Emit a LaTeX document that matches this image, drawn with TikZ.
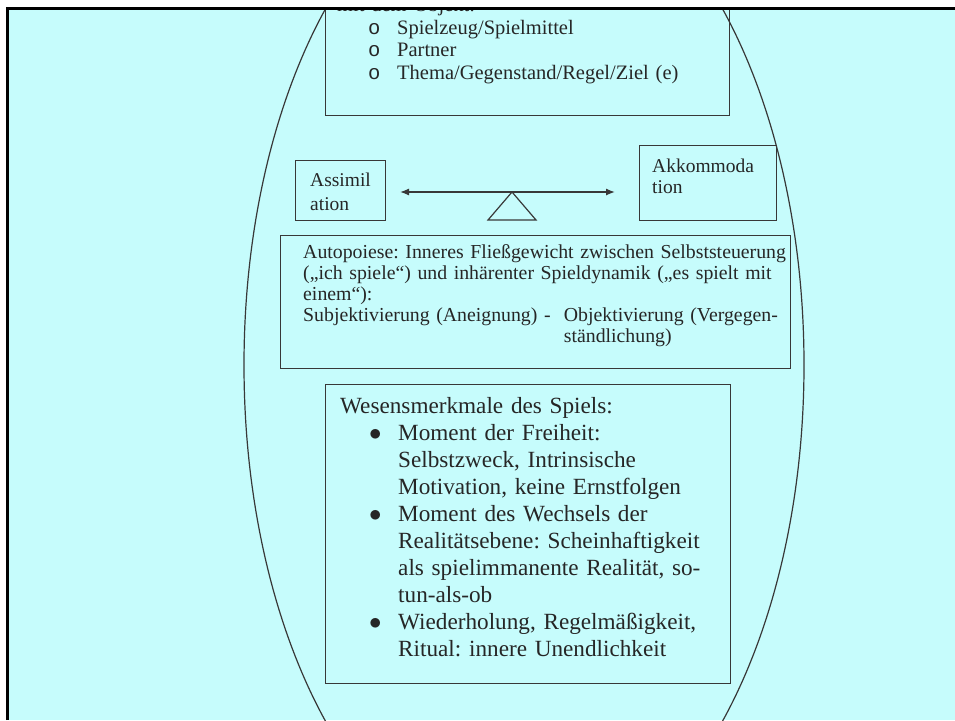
\documentclass[tikz,border=0pt]{standalone}
\usepackage{fontspec}
\setmainfont{Liberation Serif}
\setmonofont{Liberation Mono}
\usetikzlibrary{arrows.meta}
\definecolor{paper}{HTML}{C6FCFC}
\definecolor{ink}{HTML}{383838}
\frenchspacing

\begin{document}
\begin{tikzpicture}[x=1pt,y=-1pt,
    box/.style={draw=ink,line width=1.2pt,inner sep=0pt,anchor=north west},
    txt/.style={anchor=base west,inner sep=0pt,align=left,text width=520pt,text=black!85}]
                \useasboundingbox (0,0) rectangle (955,720);
                \fill[white] (0,0) rectangle (955,720);
                \fill[paper] (7.5,8.5) rectangle (955,720);

                \begin{scope}
                \clip (9,10) rectangle (955,720);
                \draw[ink,line width=1.2pt] (524,365) ellipse [x radius=280,y radius=505];

                \node[box,minimum width=404,minimum height=150] (objbox) at (325,-35) {};
                \node[txt,font=\fontsize{20.5}{22.5}\selectfont] (objtxt) at (337,11.5)
                  {mit dem Objekt:\\
                   \hspace*{31pt}\makebox[29pt][l]{\ttfamily o}Spielzeug/Spielmittel\\
                   \hspace*{31pt}\makebox[29pt][l]{\ttfamily o}Partner\\
                   \hspace*{31pt}\makebox[29pt][l]{\ttfamily o}Thema/Gegenstand/Regel/Ziel (e)};

                \node[box,minimum width=90,minimum height=60] (assimbox) at (295,160) {};
                \node[txt,font=\fontsize{19.5}{24}\selectfont] (assimtxt) at (310,186) {Assimil\\ation};

                \node[box,minimum width=137,minimum height=75] (akkbox) at (639,145) {};
                \node[txt,font=\fontsize{19.5}{21}\selectfont] (akktxt) at (652,172) {Akkommoda\\tion};

                \coordinate (arrL) at (400,192);
                \coordinate (arrR) at (615,192);
                \draw[ink,line width=1.3pt,{Latex[length=9pt,width=7pt]}-{Latex[length=9pt,width=7pt]}] (arrL) -- (arrR);

                \coordinate (pivot) at (512,192);
                \draw[ink,line width=1.2pt] (pivot) -- (488,220) -- (536,220) -- cycle;

                \node[box,minimum width=510,minimum height=133] (autobox) at (280,235) {};
                \node[txt,font=\fontsize{19.8}{21.2}\selectfont] (autotxt) at (303,258)
                  {Autopoiese: Inneres Fließgewicht zwischen Selbststeuerung\\
                   („ich spiele“) und inhärenter Spieldynamik („es spielt mit\\
                   einem“):\\
                   Subjektivierung (Aneignung) -\ \ Objektivierung (Vergegen-\\
                   \phantom{Subjektivierung (Aneignung) -\ \ }ständlichung)};

                \node[box,minimum width=405,minimum height=299] (wesbox) at (325,384) {};
                \node[txt,font=\fontsize{23.2}{27.1}\selectfont] (westxt) at (340,413)
                  {Wesensmerkmale des Spiels:\\
                   \hspace*{29pt}\makebox[29pt][l]{$\bullet$}Moment der Freiheit:\\
                   \hspace*{58pt}Selbstzweck, Intrinsische\\
                   \hspace*{58pt}Motivation, keine Ernstfolgen\\
                   \hspace*{29pt}\makebox[29pt][l]{$\bullet$}Moment des Wechsels der\\
                   \hspace*{58pt}Realitätsebene: Scheinhaftigkeit\\
                   \hspace*{58pt}als spielimmanente Realität, so-\\
                   \hspace*{58pt}tun-als-ob\\
                   \hspace*{29pt}\makebox[29pt][l]{$\bullet$}Wiederholung, Regelmäßigkeit,\\
                   \hspace*{58pt}Ritual: innere Unendlichkeit};
                \end{scope}

                \draw[line width=3pt] (7.5,720) -- (7.5,8.5) -- (955,8.5);
            \end{tikzpicture}
\end{document}
